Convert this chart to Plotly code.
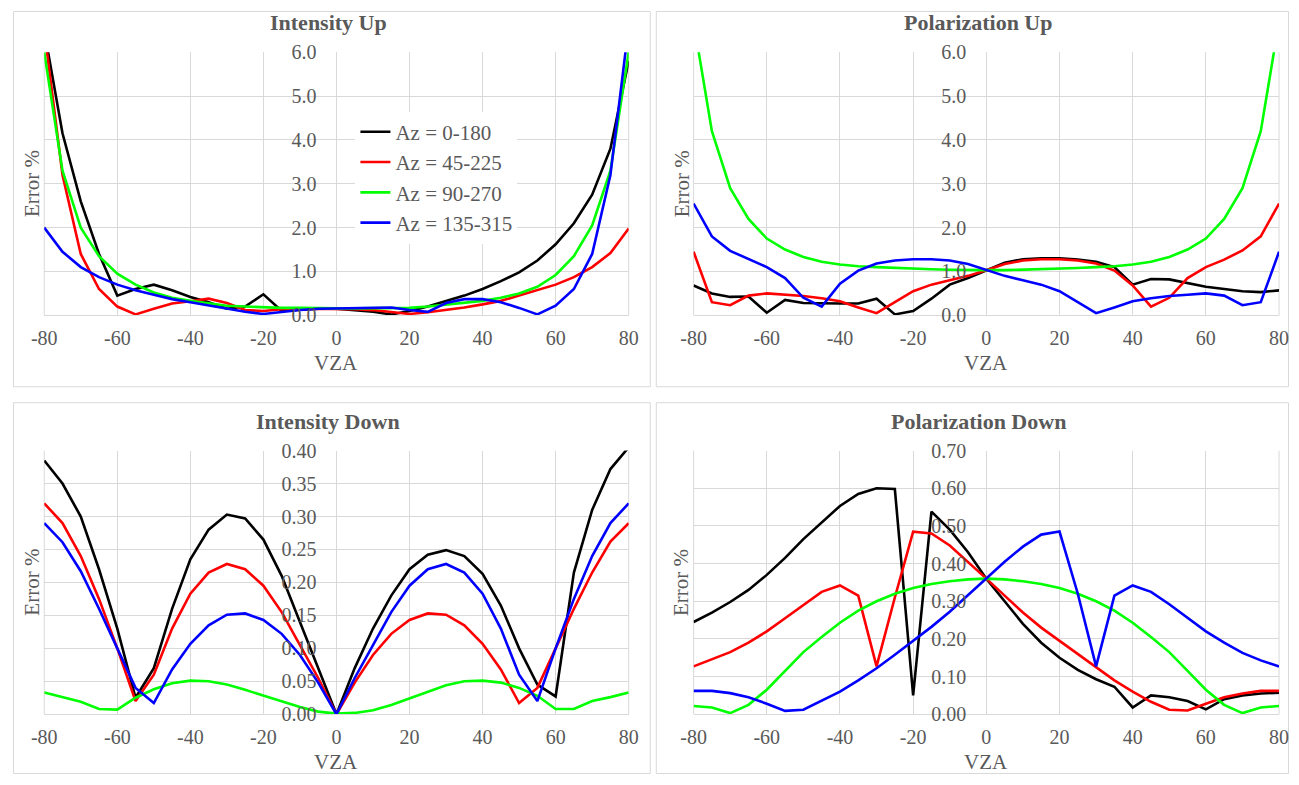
import plotly.graph_objects as go

vza = [-80, -75, -70, -65, -60, -55, -50, -45, -40, -35, -30, -25, -20, -15, -10, -5, 0,
       5, 10, 15, 20, 25, 30, 35, 40, 45, 50, 55, 60, 65, 70, 75, 80]
x_ticks = [-80, -60, -40, -20, 0, 20, 40, 60, 80]
x_tick_labels = ["-80", "-60", "-40", "-20", "0", "20", "40", "60", "80"]

series_names = ["Az = 0-180", "Az = 45-225", "Az = 90-270", "Az = 135-315"]
series_colors = ["#000000", "#ff0000", "#00ff00", "#0000ff"]

# Intensity Up
iu_black = [6.5, 4.15, 2.6, 1.4, 0.45, 0.6, 0.7, 0.57, 0.42, 0.3, 0.15, 0.2, 0.48, 0.1, 0.13, 0.15, 0.15,
            0.12, 0.08, 0.02, 0.1, 0.2, 0.32, 0.45, 0.6, 0.78, 0.98, 1.25, 1.62, 2.1, 2.75, 3.8, 5.8]
iu_red = [6.5, 3.2, 1.4, 0.6, 0.2, 0.02, 0.15, 0.27, 0.32, 0.38, 0.28, 0.12, 0.1, 0.14, 0.15, 0.15, 0.15,
          0.14, 0.12, 0.08, 0.03, 0.07, 0.12, 0.18, 0.25, 0.33, 0.45, 0.57, 0.7, 0.87, 1.1, 1.42, 1.98]
iu_green = [6.0, 3.3, 2.0, 1.35, 0.95, 0.7, 0.52, 0.4, 0.33, 0.28, 0.22, 0.2, 0.18, 0.17, 0.17, 0.16, 0.16,
            0.16, 0.16, 0.16, 0.17, 0.2, 0.24, 0.28, 0.33, 0.4, 0.5, 0.65, 0.92, 1.35, 2.05, 3.3, 6.0]
iu_blue = [2.0, 1.45, 1.1, 0.87, 0.7, 0.57, 0.47, 0.37, 0.3, 0.23, 0.15, 0.08, 0.03, 0.08, 0.12, 0.15, 0.16,
           0.17, 0.18, 0.18, 0.12, 0.08, 0.28, 0.37, 0.37, 0.3, 0.17, 0.02, 0.22, 0.6, 1.4, 3.2, 6.6]

# Polarization Up
pu_black = [0.68, 0.5, 0.42, 0.43, 0.06, 0.35, 0.28, 0.27, 0.27, 0.27, 0.38, 0.02, 0.1, 0.38, 0.7, 0.85, 1.03,
            1.2, 1.28, 1.3, 1.3, 1.27, 1.22, 1.1, 0.7, 0.83, 0.82, 0.73, 0.65, 0.6, 0.55, 0.53, 0.57]
pu_red = [1.45, 0.3, 0.23, 0.45, 0.5, 0.47, 0.44, 0.39, 0.32, 0.18, 0.05, 0.3, 0.55, 0.7, 0.8, 0.9, 1.03,
          1.17, 1.25, 1.28, 1.28, 1.25, 1.18, 1.02, 0.68, 0.2, 0.4, 0.85, 1.1, 1.27, 1.48, 1.8, 2.55]
pu_green = [6.7, 4.2, 2.9, 2.2, 1.75, 1.5, 1.33, 1.22, 1.16, 1.12, 1.1, 1.08, 1.06, 1.05, 1.04, 1.03, 1.03,
            1.03, 1.04, 1.05, 1.06, 1.08, 1.1, 1.12, 1.16, 1.22, 1.33, 1.5, 1.75, 2.2, 2.9, 4.2, 6.7]
pu_blue = [2.55, 1.8, 1.47, 1.28, 1.1, 0.85, 0.4, 0.2, 0.72, 1.02, 1.18, 1.25, 1.28, 1.28, 1.25, 1.17, 1.03,
           0.9, 0.8, 0.7, 0.55, 0.3, 0.05, 0.18, 0.32, 0.39, 0.44, 0.47, 0.5, 0.45, 0.23, 0.3, 1.45]

# Intensity Down
id_black = [0.385, 0.35, 0.30, 0.22, 0.13, 0.025, 0.07, 0.16, 0.235, 0.28, 0.303, 0.297, 0.265, 0.21, 0.14, 0.07, 0.0,
            0.07, 0.13, 0.18, 0.22, 0.242, 0.249, 0.24, 0.213, 0.165, 0.10, 0.045, 0.027, 0.215, 0.31, 0.372, 0.405]
id_red = [0.32, 0.29, 0.24, 0.175, 0.1, 0.02, 0.06, 0.13, 0.183, 0.215, 0.228, 0.22, 0.195, 0.155, 0.105, 0.055, 0.0,
          0.048, 0.09, 0.122, 0.143, 0.153, 0.151, 0.135, 0.107, 0.068, 0.017, 0.04, 0.1, 0.16, 0.215, 0.262, 0.29]
id_green = [0.033, 0.026, 0.019, 0.008, 0.007, 0.025, 0.038, 0.047, 0.051, 0.05, 0.045, 0.037, 0.028, 0.019, 0.011, 0.004, 0.001,
            0.002, 0.006, 0.014, 0.024, 0.034, 0.044, 0.05, 0.051, 0.048, 0.04, 0.028, 0.008, 0.008, 0.02, 0.026, 0.033]
id_blue = [0.29, 0.261, 0.217, 0.16, 0.1, 0.04, 0.017, 0.068, 0.107, 0.135, 0.151, 0.153, 0.143, 0.122, 0.09, 0.048, 0.0,
           0.055, 0.105, 0.155, 0.195, 0.22, 0.228, 0.215, 0.183, 0.13, 0.06, 0.02, 0.1, 0.175, 0.24, 0.29, 0.32]

# Polarization Down
pd_black = [0.245, 0.27, 0.298, 0.33, 0.37, 0.415, 0.465, 0.51, 0.553, 0.585, 0.6, 0.598, 0.05, 0.538, 0.49, 0.43, 0.36,
            0.3, 0.24, 0.19, 0.15, 0.118, 0.093, 0.073, 0.018, 0.05, 0.045, 0.035, 0.013, 0.04, 0.05, 0.055, 0.057]
pd_red = [0.127, 0.145, 0.165, 0.19, 0.22, 0.255, 0.29, 0.325, 0.342, 0.315, 0.127, 0.31, 0.485, 0.48, 0.448, 0.405, 0.36,
          0.315, 0.27, 0.23, 0.195, 0.158, 0.123, 0.09, 0.06, 0.033, 0.012, 0.01, 0.028, 0.045, 0.055, 0.062, 0.062]
pd_green = [0.022, 0.018, 0.003, 0.025, 0.065, 0.115, 0.165, 0.205, 0.243, 0.275, 0.3, 0.32, 0.335, 0.346, 0.353, 0.358, 0.36,
            0.358, 0.353, 0.346, 0.335, 0.32, 0.3, 0.275, 0.243, 0.205, 0.165, 0.115, 0.065, 0.025, 0.003, 0.018, 0.022]
pd_blue = [0.062, 0.062, 0.056, 0.045, 0.028, 0.009, 0.012, 0.035, 0.06, 0.09, 0.122, 0.158, 0.195, 0.232, 0.272, 0.316, 0.36,
           0.405, 0.445, 0.477, 0.485, 0.32, 0.127, 0.315, 0.342, 0.325, 0.292, 0.255, 0.22, 0.19, 0.163, 0.143, 0.127]

panel_titles = ["Intensity Up", "Polarization Up", "Intensity Down", "Polarization Down"]
panel_data = [
    [iu_black, iu_red, iu_green, iu_blue],
    [pu_black, pu_red, pu_green, pu_blue],
    [id_black, id_red, id_green, id_blue],
    [pd_black, pd_red, pd_green, pd_blue],
]
y_ranges = [[0, 6], [0, 6], [0, 0.4], [0, 0.7]]
y_dticks = [1.0, 1.0, 0.05, 0.1]
y_formats = [".1f", ".1f", ".2f", ".2f"]

W, H = 1299, 785
FONT = "Liberation Serif, Times New Roman, serif"
GRAY = "#595959"
GRID = "#d9d9d9"

# The photographed page shows a small frame; map target pixel positions onto the page.
AX, SX = 12.77, 0.9822
AY, SY = 9.3, 0.9744


def fx(px):
    v = ((px - AX) / SX) / W
    return min(max(v, 0.5 / W), 1 - 0.5 / W)


def fy(py):
    v = 1 - ((py - AY) / SY) / H
    return min(max(v, 0.5 / H), 1 - 0.5 / H)


# target plot-area pixel boxes (x0, x1, ytop, ybottom)
areas = [(44, 628.4, 50.6, 314.4), (693.3, 1278.7, 50.6, 314.4),
         (44, 628.4, 450, 714.3), (693.3, 1278.7, 450, 714.3)]
panels = [(7, 650, 3, 386), (656, 1296, 3, 386), (7, 650, 402, 784), (656, 1296, 402, 784)]
title_pos = [(328.5, 20.5), (978, 20.5), (328, 420.5), (978, 420.5)]

fig = go.Figure()
layout = dict(
    width=W, height=H, margin=dict(l=0, r=0, t=0, b=0), autosize=False,
    paper_bgcolor="white", plot_bgcolor="white",
    font=dict(family=FONT, color=GRAY, size=20),
    showlegend=True,
    legend=dict(x=348.6 / W, y=1 - 103.5 / H, xanchor="left", yanchor="top",
                bgcolor="white", font=dict(family=FONT, size=21, color=GRAY),
                itemwidth=30, tracegroupgap=0),
)
annotations = []
shapes = []

for i in range(4):
    sfx = "" if i == 0 else str(i + 1)
    x0, x1, yt, yb = areas[i]
    xd = [fx(x0), fx(x1)]
    yd = [fy(yb), fy(yt)]
    for j in range(4):
        fig.add_trace(go.Scatter(
            x=vza, y=panel_data[i][j], mode="lines", name=series_names[j],
            line=dict(color=series_colors[j], width=2.6),
            xaxis="x" + sfx, yaxis="y" + sfx, showlegend=(i == 0),
        ))
    layout["xaxis" + sfx] = dict(
        domain=xd, anchor="y" + sfx, range=[-80, 80],
        tickmode="array", tickvals=x_ticks, ticktext=x_tick_labels,
        showgrid=True, gridcolor=GRID, gridwidth=1, zeroline=False,
        showline=True, linecolor=GRID, linewidth=1, mirror=False,
        ticks="outside", ticklen=5, tickcolor="rgba(0,0,0,0)",
        tickfont=dict(family=FONT, size=20, color=GRAY),
    )
    layout["yaxis" + sfx] = dict(
        domain=yd, anchor="free", position=(xd[0] + xd[1]) / 2,
        range=y_ranges[i], dtick=y_dticks[i], tick0=0, tickformat=y_formats[i],
        showgrid=True, gridcolor=GRID, gridwidth=1, zeroline=False, showline=False,
        ticks="outside", ticklen=16, tickcolor="rgba(0,0,0,0)",
        tickfont=dict(family=FONT, size=20, color=GRAY),
    )
    px0, px1, py0, py1 = panels[i]
    shapes.append(dict(type="rect", xref="paper", yref="paper",
                       x0=fx(px0), x1=fx(px1), y0=fy(py1), y1=fy(py0),
                       line=dict(color=GRID, width=1), layer="below"))
    for xe in xd:
        shapes.append(dict(type="line", xref="paper", yref="paper",
                           x0=xe, x1=xe, y0=yd[0], y1=yd[1],
                           line=dict(color=GRID, width=1), layer="below"))
    tx, ty = title_pos[i]
    annotations.append(dict(text="<b>" + panel_titles[i] + "</b>", xref="paper", yref="paper",
                            x=fx(tx), y=fy(ty), showarrow=False,
                            xanchor="center", yanchor="middle",
                            font=dict(family=FONT, size=22, color=GRAY)))
    annotations.append(dict(text="VZA", xref="paper", yref="paper",
                            x=(xd[0] + xd[1]) / 2, y=fy(yb + 48), showarrow=False,
                            xanchor="center", yanchor="middle",
                            font=dict(family=FONT, size=21, color=GRAY)))
    annotations.append(dict(text="Error %", xref="paper", yref="paper",
                            x=fx(x0 - 12), y=fy((yt + yb) / 2), showarrow=False,
                            textangle=-90, xanchor="center", yanchor="middle",
                            font=dict(family=FONT, size=21, color=GRAY)))

layout["annotations"] = annotations
layout["shapes"] = shapes
fig.update_layout(**layout)
fig.write_html("out.html", config={"displayModeBar": False},
               post_script="document.body.style.margin='0';document.body.style.padding='0';"
                           "document.documentElement.style.overflow='hidden';")
